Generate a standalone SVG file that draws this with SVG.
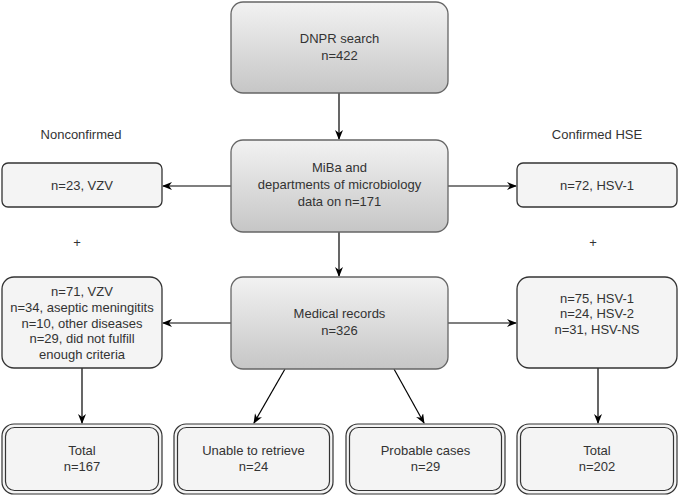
<svg xmlns="http://www.w3.org/2000/svg" width="679" height="495" viewBox="0 0 679 495">
<style>
  text { font-family: "Liberation Sans", Arial, sans-serif; font-size: 13px; fill: #333333; text-anchor: middle; }
  .main { fill: url(#grad); stroke: #666666; stroke-width: 1.3; }
  .side { fill: #f4f4f4; stroke: #333333; stroke-width: 1.3; }
  .dbl { fill: #f4f4f4; stroke: #333333; stroke-width: 1.2; }
  .conn { fill: none; stroke: #000000; stroke-width: 1.2; marker-end: url(#arr); }
</style>
<defs>
  <linearGradient id="grad" x1="0" y1="0" x2="0" y2="1">
    <stop offset="0" stop-color="#f2f2f2"/>
    <stop offset="1" stop-color="#c6c6c6"/>
  </linearGradient>
  <marker id="arr" viewBox="0 0 10 8" refX="9" refY="4" markerWidth="10" markerHeight="8" markerUnits="userSpaceOnUse" orient="auto">
    <path d="M0,0 L10,4 L0,8 L3,4 z" fill="#000000"/>
  </marker>
</defs>

<g id="connectors">
  <path class="conn" d="M339,93 L339,139"/>
  <path class="conn" d="M231,186 L163,186"/>
  <path class="conn" d="M448,186 L516,186"/>
  <path class="conn" d="M339,232 L339,276"/>
  <path class="conn" d="M231,323 L163,323"/>
  <path class="conn" d="M448,323 L516,323"/>
  <path class="conn" d="M285,369 L254,423"/>
  <path class="conn" d="M394,369 L424,423"/>
  <path class="conn" d="M82,368 L82,423"/>
  <path class="conn" d="M598,368 L598,423"/>
</g>

<g id="label-nonconfirmed"><text x="81" y="139">Nonconfirmed</text></g>
<g id="label-confirmed"><text x="597" y="139">Confirmed HSE</text></g>
<g id="plus-left"><text x="77" y="247">+</text></g>
<g id="plus-right"><text x="593" y="247">+</text></g>

<g id="dnpr">
  <rect class="main" x="231" y="2" width="217" height="91" rx="12"/>
  <text x="339.5" y="43">DNPR search</text>
  <text x="339.5" y="60">n=422</text>
</g>

<g id="miba">
  <rect class="main" x="231" y="140" width="217" height="92" rx="12"/>
  <text x="339.5" y="172">MiBa and</text>
  <text x="339.5" y="189">departments of microbiology</text>
  <text x="339.5" y="206">data on n=171</text>
</g>

<g id="medical">
  <rect class="main" x="231" y="277" width="217" height="92" rx="12"/>
  <text x="339.5" y="318">Medical records</text>
  <text x="339.5" y="335">n=326</text>
</g>

<g id="vzv23">
  <rect class="side" x="2" y="163" width="160" height="44" rx="6"/>
  <text x="82" y="190">n=23, VZV</text>
</g>

<g id="hsv72">
  <rect class="side" x="517" y="163" width="160" height="44" rx="6"/>
  <text x="597" y="190">n=72, HSV-1</text>
</g>

<g id="nonconf-list">
  <rect class="side" x="2" y="277" width="160" height="91" rx="12"/>
  <text x="82" y="295.5">n=71, VZV</text>
  <text x="82" y="311.5">n=34, aseptic meningitits</text>
  <text x="82" y="327.5">n=10, other diseases</text>
  <text x="82" y="343">n=29, did not fulfill</text>
  <text x="82" y="358.5">enough criteria</text>
</g>

<g id="conf-list">
  <rect class="side" x="517" y="277" width="160" height="91" rx="12"/>
  <text x="597" y="302.5">n=75, HSV-1</text>
  <text x="597" y="318">n=24, HSV-2</text>
  <text x="597" y="333.5">n=31, HSV-NS</text>
</g>

<g id="total-left">
  <rect class="dbl" x="2" y="424" width="160" height="70" rx="12"/>
  <rect class="dbl" x="5.5" y="427.5" width="153" height="63" rx="9"/>
  <text x="82" y="455">Total</text>
  <text x="82" y="471">n=167</text>
</g>

<g id="unable">
  <rect class="dbl" x="174" y="424" width="159" height="70" rx="12"/>
  <rect class="dbl" x="177.5" y="427.5" width="152" height="63" rx="9"/>
  <text x="253.5" y="455">Unable to retrieve</text>
  <text x="253.5" y="471">n=24</text>
</g>

<g id="probable">
  <rect class="dbl" x="346" y="424" width="159" height="70" rx="12"/>
  <rect class="dbl" x="349.5" y="427.5" width="152" height="63" rx="9"/>
  <text x="425.5" y="455">Probable cases</text>
  <text x="425.5" y="471">n=29</text>
</g>

<g id="total-right">
  <rect class="dbl" x="517" y="424" width="160" height="70" rx="12"/>
  <rect class="dbl" x="520.5" y="427.5" width="153" height="63" rx="9"/>
  <text x="597" y="455">Total</text>
  <text x="597" y="471">n=202</text>
</g>
</svg>
